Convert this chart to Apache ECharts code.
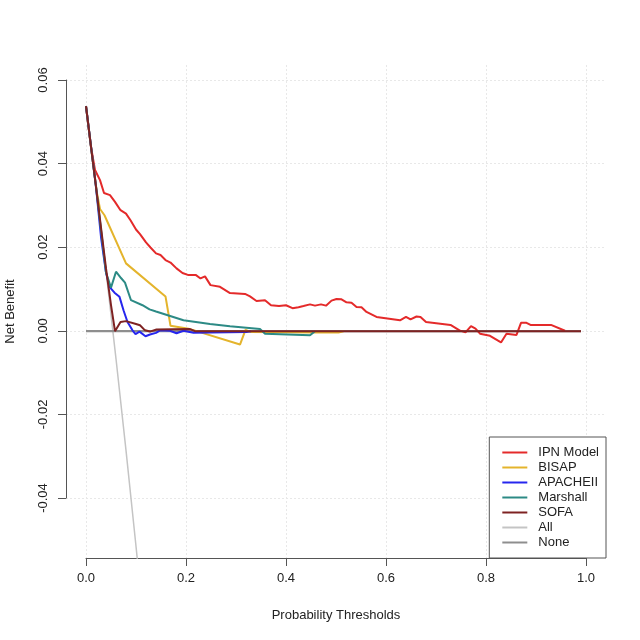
<!DOCTYPE html>
<html>
<head>
<meta charset="utf-8">
<script src="https://cdn.jsdelivr.net/npm/echarts@6/dist/echarts.min.js"></script>
<style>html,body{margin:0;padding:0;background:#fff}#c{width:640px;height:640px}</style>
</head>
<body>
<div id="c"></div>
<script>
// Threshold probabilities (x) and net benefit (y) per strategy
const ipnX = [0,0.010,0.018,0.028,0.036,0.048,0.058,0.069,0.080,0.089,0.100,0.108,0.120,0.129,0.140,0.149,0.159,0.169,0.181,0.193,0.205,0.220,0.229,0.238,0.249,0.268,0.288,0.318,0.328,0.341,0.358,0.370,0.386,0.400,0.413,0.425,0.435,0.448,0.458,0.470,0.480,0.491,0.501,0.511,0.521,0.531,0.541,0.551,0.561,0.581,0.628,0.640,0.649,0.661,0.669,0.680,0.729,0.747,0.759,0.770,0.779,0.788,0.808,0.830,0.841,0.861,0.870,0.881,0.889,0.930,0.958];
const ipnY = [0.0538,0.0440,0.0385,0.0361,0.0330,0.0325,0.0309,0.0289,0.0281,0.0265,0.0243,0.0232,0.0212,0.0200,0.0186,0.0182,0.0170,0.0164,0.0150,0.0139,0.0134,0.0134,0.0126,0.0131,0.0110,0.0106,0.0091,0.0089,0.0083,0.0072,0.0074,0.0062,0.0060,0.0062,0.0055,0.0057,0.0060,0.0064,0.0061,0.0064,0.0061,0.0073,0.0077,0.0076,0.0069,0.0068,0.0058,0.0057,0.0046,0.0034,0.0026,0.0034,0.0028,0.0035,0.0034,0.0022,0.0015,0.0002,-0.0003,0.0012,0.0006,-0.0006,-0.0011,-0.0027,-0.0006,-0.0009,0.0020,0.0020,0.0015,0.0015,0.0001];

const bisapX = [0,0.012,0.022,0.028,0.037,0.080,0.159,0.169,0.205,0.308,0.319,0.330,0.458,0.505,0.515];
const bisapY = [0.0538,0.0420,0.0330,0.0292,0.0277,0.0162,0.0083,0.0013,0.0006,-0.0032,0.0003,-0.0002,-0.0003,-0.0003,0];

const apacheX = [0,0.020,0.030,0.040,0.047,0.057,0.067,0.075,0.083,0.093,0.099,0.107,0.119,0.128,0.140,0.148,0.168,0.181,0.195,0.215,0.321,0.330];
const apacheY = [0.0538,0.0345,0.0225,0.0140,0.0106,0.0092,0.0082,0.0050,0.0022,0.0002,-0.0007,-0.0001,-0.0012,-0.0008,-0.0004,0.0002,0.0001,-0.0005,0.0001,-0.0004,-0.0002,0];

const marshallX = [0,0.020,0.040,0.050,0.060,0.070,0.078,0.090,0.113,0.127,0.140,0.195,0.248,0.288,0.348,0.358,0.448,0.458];
const marshallY = [0.0538,0.0345,0.0140,0.0104,0.0142,0.0127,0.0116,0.0074,0.0062,0.0052,0.0047,0.0026,0.0017,0.0012,0.0005,-0.0006,-0.0010,0];

const sofaX = [0,0.020,0.040,0.050,0.058,0.069,0.080,0.100,0.108,0.118,0.128,0.141,0.208,0.218,0.990];
const sofaY = [0.0538,0.0345,0.0150,0.0062,0,0.0022,0.0024,0.0017,0.0014,0.0002,-0.0001,0.0004,0.0005,0,0];

const allX = [0,0.020,0.040,0.060,0.080,0.100,0.120];
const allY = [0.0538,0.0345,0.0144,-0.0066,-0.0285,-0.0514,-0.0752];

const noneX = [0,0.990];
const noneY = [0,0];

const xTicks = [0,0.2,0.4,0.6,0.8,1.0];
const yTicks = [-0.04,-0.02,0,0.02,0.04,0.06];

const names = ['IPN Model','BISAP','APACHEII','Marshall','SOFA','All','None'];

function zip(xs, ys){ return xs.map((x,i)=>[x, ys[i]]); }

const FONT = '"Liberation Sans", Arial, Helvetica, sans-serif';
const gridLine = {show:true, lineStyle:{color:'#e8e8e8', type:[2,2], width:1}};

const chart = echarts.init(document.getElementById('c'), null, {renderer:'canvas'});

function line(name, xs, ys, color, width, z){
  return {
    name, type:'line', xAxisIndex:0, yAxisIndex:0, data: zip(xs, ys),
    showSymbol:false, symbol:'none', animation:false, clip:true, z:z,
    lineStyle:{color, width}, itemStyle:{color}, emphasis:{disabled:true}
  };
}

chart.setOption({
  backgroundColor:'#ffffff',
  animation:false,
  textStyle:{fontFamily:FONT},
  grid:[
    {left:66, right:34, top:65, bottom:82, outerBoundsMode:'none', containLabel:false},
    {left:86, right:54, top:65, bottom:82, outerBoundsMode:'none', containLabel:false},
    {left:66, right:34, top:80, bottom:142, outerBoundsMode:'none', containLabel:false}
  ],
  xAxis:[
    {gridIndex:0, type:'value', min:-0.04, max:1.04,
     name:'Probability Thresholds', nameLocation:'middle', nameGap:51,
     nameTextStyle:{fontSize:13, color:'#222', fontFamily:FONT},
     axisLine:{show:false}, axisTick:{show:false}, axisLabel:{show:false}, splitLine:{show:false}},
    {gridIndex:1, type:'value', min:xTicks[0], max:xTicks[xTicks.length-1], interval:0.2,
     axisLine:{show:true, onZero:false, lineStyle:{color:'#555', width:1}},
     axisTick:{show:true, inside:false, length:8, lineStyle:{color:'#555'}},
     axisLabel:{show:true, margin:14, fontSize:13, color:'#222', fontFamily:FONT, formatter:v=>v.toFixed(1)},
     splitLine:gridLine},
    {gridIndex:2, type:'value', min:0, max:1, show:false}
  ],
  yAxis:[
    {gridIndex:0, type:'value', min:-0.0542, max:0.0636,
     name:'Net Benefit', nameLocation:'middle', nameGap:49, nameRotate:90,
     nameTextStyle:{fontSize:13, color:'#222', fontFamily:FONT},
     axisLine:{show:false}, axisTick:{show:false}, axisLabel:{show:false}, splitLine:{show:false}},
    {gridIndex:1, type:'value', min:0, max:1, show:false},
    {gridIndex:2, type:'value', min:yTicks[0], max:yTicks[yTicks.length-1], interval:0.02,
     axisLine:{show:true, onZero:false, lineStyle:{color:'#555', width:1}},
     axisTick:{show:true, inside:false, length:8, lineStyle:{color:'#555'}},
     axisLabel:{show:true, rotate:90, margin:16, fontSize:13, color:'#222', fontFamily:FONT,
       formatter:v=>(Math.abs(v)<1e-9?0:v).toFixed(2)},
     splitLine:gridLine}
  ],
  legend:{
    data:names, orient:'vertical', right:34, bottom:82,
    backgroundColor:'#fff', borderColor:'#555', borderWidth:1, borderRadius:0,
    padding:[9,7,9,12], itemWidth:25, itemHeight:14, itemGap:2,
    itemStyle:{opacity:0},
    lineStyle:{width:2},
    textStyle:{fontSize:13, color:'#222', fontFamily:FONT, padding:[0,0,0,6]},
    selectedMode:false, z:20
  },
  series:[
    line('All', allX, allY, '#c4c4c4', 1.5, 2),
    line('None', noneX, noneY, '#8e8e8e', 2.2, 2),
    line('IPN Model', ipnX, ipnY, '#e42a2a', 2, 3),
    line('BISAP', bisapX, bisapY, '#e4b42c', 2, 3),
    line('APACHEII', apacheX, apacheY, '#2626ee', 2, 3),
    line('Marshall', marshallX, marshallY, '#2c8a85', 2, 3),
    line('SOFA', sofaX, sofaY, '#7e2222', 2, 4)
  ]
});
</script>
</body>
</html>
